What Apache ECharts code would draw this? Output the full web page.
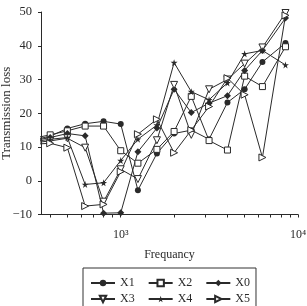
<!DOCTYPE html>
<html>
<head>
<meta charset="utf-8">
<script src="https://cdn.jsdelivr.net/npm/echarts@6/dist/echarts.min.js"></script>
<style>
html,body{margin:0;padding:0;background:#fff;}
#main{width:307px;height:306px;}
</style>
</head>
<body>
<div id="main"></div>
<script>
// frequency bands (Hz)
var freqs = [315, 400, 500, 630, 800, 1000, 1250, 1600, 2000, 2500, 3150, 4000, 5000, 6300, 8500];
// transmission loss per series
var x1 = [12.0, 13.2, 15.5, 16.9, 17.6, 16.8, -2.8, 8.1, 14.0, 15.0, 12.3, 23.2, 27.1, 35.2, 40.8];
var x2 = [12.5, 13.6, 14.8, 16.2, 16.2, 8.9, 5.2, 9.3, 14.6, 25.0, 11.9, 9.1, 31.0, 27.9, 39.7];
var x0 = [11.8, 12.8, 14.0, 13.3, -9.6, -9.5, 8.6, 15.6, 27.1, 20.2, 23.0, 25.2, 32.7, 38.6, 48.2];
var x3 = [11.2, 11.8, 12.6, 9.8, -6.2, 3.4, 0.5, 12.0, 28.4, 13.6, 27.1, 30.0, 34.7, 39.5, 49.7];
var x4 = [11.5, 12.3, 12.8, -1.1, -0.6, 6.0, 12.3, 16.5, 35.0, 26.4, 24.0, 29.0, 37.6, 38.6, 34.3];
var x5 = [10.8, 11.1, 9.8, -7.5, -7.0, 2.7, 13.8, 18.2, 8.3, 15.0, 22.0, 30.4, 25.5, 6.9, 49.0];

// x axis range and tick marks (Hz)
var fMin = 355, fMax = 10000;
var tickFreqs = [400, 500, 600, 700, 800, 900, 1000, 2000, 3000, 4000, 5000, 6000, 7000, 8000, 9000, 10000];
var labelFreqs = [1000, 10000];
var labelText = { 3: '10³', 4: '10⁴' };

var ink = '#2a2a2a';
var serif = 'Liberation Serif';

var SYM = {
    down: 'path://M0,0L10,0L5,9Z',
    right: 'path://M0,0L9,5L0,10Z',
    star: 'path://M50,0L61,35L98,35L68,57L79,91L50,70L21,91L32,57L2,35L39,35Z'
};

function pairs(vals) {
    return freqs.map(function (f, i) { return [f, vals[i]]; });
}

function mk(name, vals, symbol, open, size) {
    return {
        name: name,
        type: 'line',
        xAxisIndex: 0,
        data: pairs(vals),
        symbol: symbol,
        symbolSize: size,
        showAllSymbol: true,
        clip: true,
        lineStyle: { color: ink, width: 1 },
        itemStyle: {
            color: open ? '#fff' : ink,
            borderColor: ink,
            borderWidth: open ? 1 : 0
        },
        emphasis: { disabled: true },
        z: 2
    };
}

var myChart = echarts.init(document.getElementById('main'));
var option = {
    animation: false,
    backgroundColor: '#fff',
    textStyle: { fontFamily: serif },
    grid: {
        left: 41,
        right: 9,
        top: 12,
        bottom: 91.5,
        containLabel: false,
        outerBoundsMode: 'none'
    },
    legend: [{
        data: ['X1', 'X2', 'X0'],
        left: 83,
        top: 268,
        orient: 'horizontal',
        padding: [9, 6, 30, 7],
        itemWidth: 24,
        itemHeight: 8,
        itemGap: 13,
        borderColor: '#333',
        borderWidth: 1,
        selectedMode: false,
        textStyle: { fontFamily: serif, fontSize: 12, color: ink }
    }, {
        data: ['X3', 'X4', 'X5'],
        left: 83,
        top: 284,
        orient: 'horizontal',
        padding: [9, 6, 0, 7],
        itemWidth: 24,
        itemHeight: 8,
        itemGap: 13,
        selectedMode: false,
        textStyle: { fontFamily: serif, fontSize: 12, color: ink }
    }],
    xAxis: [{
        // data axis (log scale)
        type: 'log',
        min: fMin,
        max: fMax,
        position: 'bottom',
        axisLine: { show: false },
        axisTick: { show: false },
        axisLabel: { show: false },
        minorTick: { show: false },
        splitLine: { show: false }
    }, {
        // decade ticks/labels drawn in log10 units over the same span
        type: 'value',
        min: Math.log10(fMin),
        max: Math.log10(fMax),
        position: 'bottom',
        name: 'Frequancy',
        nameLocation: 'middle',
        nameGap: 34,
        nameMoveOverlap: false,
        nameTextStyle: { fontFamily: serif, fontSize: 12, color: ink },
        axisLine: { show: true, onZero: false, lineStyle: { color: ink, width: 1 } },
        axisTick: {
            show: true,
            length: 3,
            customValues: tickFreqs.map(Math.log10),
            lineStyle: { color: ink }
        },
        splitLine: { show: false },
        axisLabel: {
            customValues: labelFreqs.map(Math.log10),
            margin: 14,
            fontFamily: serif,
            fontSize: 12,
            color: ink,
            formatter: function (v) { return labelText[Math.round(v)] || ''; }
        }
    }],
    yAxis: {
        type: 'value',
        min: -10,
        max: 50,
        interval: 10,
        name: 'Transmission loss',
        nameLocation: 'middle',
        nameGap: 28,
        nameMoveOverlap: false,
        nameTextStyle: { fontFamily: serif, fontSize: 13, color: ink },
        axisLine: { show: true, lineStyle: { color: ink, width: 1 } },
        axisTick: { show: true, length: 3, lineStyle: { color: ink } },
        splitLine: { show: false },
        axisLabel: {
            margin: 9,
            fontFamily: serif,
            fontSize: 12.5,
            color: ink,
            formatter: function (v) { return v < 0 ? '\u2212' + Math.abs(v) : String(v); }
        }
    },
    series: [
        mk('X1', x1, 'circle', false, 6),
        mk('X2', x2, 'rect', true, 6),
        mk('X0', x0, 'diamond', false, 7),
        mk('X3', x3, SYM.down, true, 7),
        mk('X4', x4, SYM.star, false, 7),
        mk('X5', x5, SYM.right, true, 7)
    ]
};
myChart.setOption(option);
</script>
</body>
</html>
